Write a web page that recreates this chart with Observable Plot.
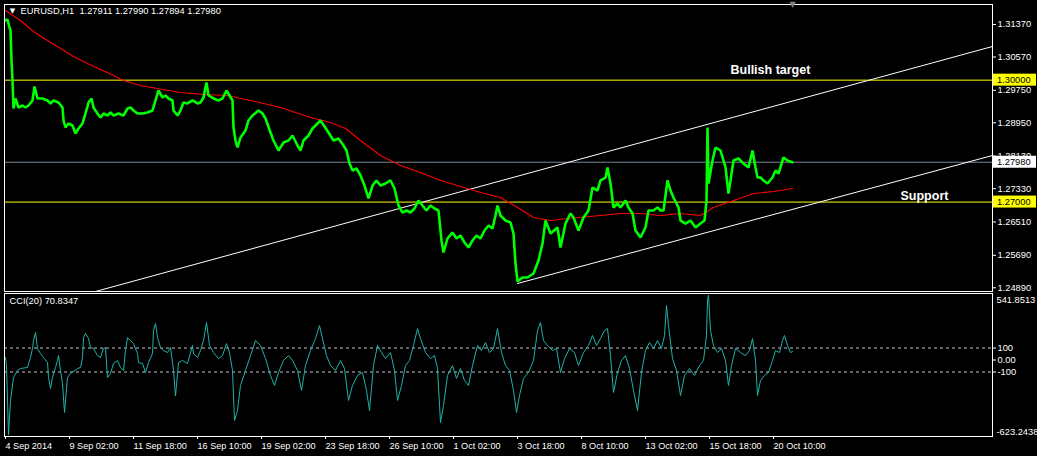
<!DOCTYPE html>
<html><head><meta charset="utf-8">
<script src="https://cdn.jsdelivr.net/npm/d3@7"></script>
<script src="https://cdn.jsdelivr.net/npm/@observablehq/plot@0.6"></script>
<style>
html,body{margin:0;padding:0;background:#000;}
#chart{position:relative;width:1037px;height:456px;background:#000;overflow:hidden;}
#chart svg{position:absolute;left:0;background:transparent;}
</style></head><body><div id="chart"></div>
<script>
// ---------- data ----------
const symbolName = "EURUSD,H1";
const quoteOHLC = ["1.27911", "1.27990", "1.27894", "1.27980"];
const cciTitle = "CCI(20) 70.8347";

// [bar index, price]  (hourly bars, 1 bar per step)
const eurusd = [[0,1.31468],[2,1.31493],[4,1.31296],[5,1.31222],[6,1.30484],[7,1.29992],[8,1.29303],[10,1.29549],[13,1.29327],[17,1.29376],[20,1.29327],[23,1.29376],[27,1.295],[29,1.29844],[32,1.29549],[37,1.29549],[42,1.295],[45,1.29426],[48,1.295],[53,1.2945],[57,1.29327],[58,1.29008],[60,1.28835],[63,1.28934],[67,1.28884],[70,1.28687],[73,1.2881],[77,1.28934],[80,1.2918],[83,1.2945],[86,1.29549],[88,1.29327],[92,1.2918],[95,1.29081],[98,1.2918],[102,1.2913],[105,1.29204],[108,1.2913],[113,1.2918],[118,1.2913],[122,1.29303],[125,1.29327],[128,1.29254],[132,1.2918],[137,1.2918],[142,1.29204],[147,1.29254],[150,1.295],[153,1.29746],[157,1.29573],[160,1.29623],[163,1.29549],[167,1.295],[168,1.29254],[172,1.2913],[175,1.29254],[178,1.2945],[182,1.29426],[187,1.295],[192,1.29426],[195,1.2945],[198,1.29573],[201,1.29943],[203,1.29623],[208,1.29549],[213,1.295],[217,1.29549],[221,1.29746],[224,1.29623],[227,1.295],[228,1.28835],[230,1.28515],[232,1.28343],[235,1.28589],[240,1.28761],[243,1.29008],[247,1.2913],[253,1.29254],[257,1.2918],[260,1.29057],[265,1.28712],[268,1.28515],[273,1.28269],[278,1.28466],[283,1.28515],[287,1.28638],[292,1.28392],[295,1.28269],[298,1.28515],[303,1.28638],[307,1.2881],[311,1.28909],[315,1.29008],[319,1.2886],[323,1.28712],[328,1.28515],[333,1.28564],[338,1.28392],[341,1.28269],[344,1.27949],[347,1.27777],[351,1.27826],[355,1.27654],[359,1.27407],[363,1.27088],[367,1.27407],[371,1.27531],[375,1.27407],[380,1.27457],[385,1.27531],[389,1.27334],[393,1.26915],[397,1.26743],[401,1.26792],[405,1.26743],[409,1.26841],[413,1.27038],[417,1.26915],[421,1.26792],[425,1.26915],[429,1.26841],[433,1.26792],[436,1.26054],[438,1.25759],[442,1.26103],[447,1.26251],[451,1.26103],[455,1.26177],[459,1.26005],[463,1.25882],[467,1.26054],[471,1.26177],[475,1.26103],[479,1.263],[483,1.26423],[487,1.26349],[490,1.26669],[492,1.26915],[495,1.26669],[500,1.26546],[505,1.26497],[508,1.26226],[510,1.25488],[512,1.25045],[517,1.25143],[522,1.25143],[528,1.25242],[533,1.25562],[537,1.2598],[540,1.26546],[545,1.26226],[552,1.26374],[555,1.25882],[560,1.26472],[565,1.26718],[568,1.2662],[573,1.263],[578,1.2662],[583,1.26792],[587,1.27358],[592,1.27284],[595,1.27531],[600,1.27604],[602,1.27851],[605,1.27457],[608,1.26866],[612,1.26965],[615,1.26866],[620,1.27038],[623,1.26866],[627,1.26718],[630,1.263],[635,1.26128],[640,1.26374],[643,1.26792],[648,1.26792],[652,1.26866],[655,1.26792],[658,1.26792],[662,1.27531],[665,1.27284],[668,1.27112],[673,1.26866],[675,1.26546],[680,1.26472],[685,1.26546],[690,1.26374],[695,1.26472],[699,1.26546],[701,1.27038],[702,1.28835],[703,1.27457],[707,1.28023],[710,1.28343],[715,1.28269],[720,1.27851],[723,1.27211],[725,1.27531],[728,1.28023],[733,1.28072],[738,1.27949],[743,1.27851],[747,1.28269],[750,1.27851],[752,1.27604],[755,1.27604],[758,1.27531],[762,1.27457],[767,1.27604],[770,1.27777],[773,1.27703],[778,1.28097],[782,1.28023],[787,1.2798]];

// moving average [bar index, price]
const movingAvg = [[0,1.31715],[15,1.31468],[28,1.31198],[42,1.30976],[55,1.30779],[68,1.30582],[82,1.3041],[95,1.30262],[108,1.30115],[118,1.29992],[135,1.29869],[152,1.29795],[175,1.29696],[198,1.29647],[222,1.29623],[235,1.29549],[245,1.295],[275,1.29327],[305,1.29081],[325,1.28958],[340,1.2881],[355,1.28515],[375,1.28146],[395,1.279],[415,1.27727],[435,1.27531],[455,1.27383],[475,1.27235],[495,1.27112],[512,1.26866],[528,1.2662],[545,1.26546],[562,1.26595],[595,1.26669],[615,1.26718],[635,1.26718],[655,1.26669],[675,1.26718],[695,1.26669],[708,1.26866],[728,1.27038],[748,1.27211],[768,1.2726],[787,1.27334]];

// CCI(20) [bar index, value]
const cci20 = [[0,21],[1,-46],[3,-623.2438],[5,-337],[8,-146],[12,-87],[15,-71],[22,-62],[25,21],[27,96],[28,162],[30,229],[32,96],[35,54],[38,21],[42,-21],[43,-146],[45,-237],[47,-146],[50,-62],[52,-4],[53,37],[55,-87],[57,-196],[59,-437],[62,-146],[65,-112],[72,-71],[75,-62],[77,21],[78,187],[80,221],[83,179],[85,104],[88,96],[92,37],[95,21],[98,96],[100,104],[102,-146],[105,-112],[108,-29],[112,-4],[115,-62],[118,-87],[120,79],[122,187],[125,162],[128,137],[132,54],[133,-21],[137,-29],[140,-104],[143,-21],[147,54],[148,246],[150,304],[152,187],[155,104],[158,79],[162,62],[165,104],[168,-87],[170,-300],[173,-21],[177,-4],[182,-29],[187,121],[188,54],[192,21],[195,79],[198,162],[201,312],[204,121],[208,62],[213,12],[217,37],[221,137],[224,62],[227,-87],[229,-504],[232,-421],[235,-212],[240,-87],[245,37],[250,162],[255,121],[260,12],[265,-129],[269,-212],[273,-104],[278,-4],[283,37],[287,-4],[292,-87],[296,-254],[300,-46],[305,79],[310,179],[314,287],[317,179],[321,37],[325,-46],[330,-87],[335,-4],[339,-71],[343,-337],[347,-212],[352,-129],[357,-104],[361,-254],[364,-421],[368,-46],[372,121],[376,62],[380,12],[385,62],[389,-87],[392,-337],[396,-212],[400,-46],[404,-4],[408,121],[412,262],[415,179],[420,62],[425,12],[429,37],[432,-71],[435,-521],[438,-379],[442,-129],[447,-46],[451,-154],[455,-71],[459,-171],[463,-212],[467,-46],[472,121],[476,79],[480,146],[484,62],[488,96],[492,262],[496,62],[500,-46],[504,-87],[508,-254],[511,-437],[514,-296],[518,-154],[523,-104],[528,-4],[532,246],[535,312],[538,162],[542,121],[547,79],[551,96],[555,-104],[559,12],[564,96],[569,62],[573,-46],[578,62],[583,121],[587,204],[591,121],[595,179],[599,246],[602,262],[605,37],[608,-271],[612,-104],[616,-4],[620,37],[624,-71],[628,-254],[632,-421],[636,-104],[640,79],[644,146],[648,96],[652,162],[656,96],[659,204],[661,454],[663,287],[667,12],[671,-87],[675,-296],[679,-129],[684,-71],[689,-129],[694,-46],[698,-4],[701,204],[702,496],[703,541.8513],[705,246],[708,121],[712,62],[716,96],[720,-4],[723,-212],[726,-46],[730,96],[735,62],[740,37],[744,79],[747,179],[750,-4],[752,-296],[755,-171],[759,-129],[763,-104],[767,-4],[770,79],[774,62],[777,162],[779,204],[782,121],[785,62],[787,70.8347]];

// trend channel rays [bar index, price]
const channelUpper = [[90, 1.24799], [987, 1.30829]];
const channelLower = [[512, 1.24996], [987, 1.28146]];
const levelPrices = [1.30000, 1.27000];
const bidPrice = 1.27980;
const annotationText = ["Bullish target", "Support"];
const annotationIdx = [725, 895];
const annotationPrice = [1.30262, 1.27161];

const priceTicks = [1.31370, 1.30570, 1.29750, 1.28950, 1.28130, 1.27330, 1.26510, 1.25690, 1.24890];
const priceDomain = [1.24799, 1.31862];
const cciMin = -623.2438, cciMax = 541.8513;
const cciLevels = [100, 0, -100];
const cciLevelLabels = ["100", "0.00", "-100"];
const timeTickIdx = [0, 64, 128, 192, 256, 320, 384, 448, 512, 576, 640, 704, 768];
const timeTickLabels = ["4 Sep 2014", "9 Sep 02:00", "11 Sep 18:00", "16 Sep 10:00", "19 Sep 02:00", "23 Sep 18:00", "26 Sep 10:00", "1 Oct 02:00", "3 Oct 18:00", "8 Oct 10:00", "13 Oct 02:00", "15 Oct 18:00", "20 Oct 10:00"];
const barDomain = [-1, 987];

// ---------- drawing ----------
const FONT = "'Liberation Sans', Arial, sans-serif";
const W = 1037;
const annotations = annotationText.map((t, i) => ({t, i: annotationIdx[i], p: annotationPrice[i]}));

const main = Plot.plot({
  width: W, height: 292,
  marginTop: 4, marginBottom: 1, marginLeft: 4, marginRight: 45,
  style: {background: "transparent", color: "#ffffff", fontFamily: FONT, fontSize: "9.3px"},
  x: {domain: barDomain, axis: null, label: null},
  y: {domain: priceDomain, axis: null, label: null},
  marks: [
    Plot.ruleY(levelPrices, {stroke: "#ffff00", strokeWidth: 1}),
    Plot.ruleY([bidPrice], {stroke: "#778899", strokeWidth: 1}),
    Plot.line(channelUpper, {x: d => d[0], y: d => d[1], stroke: "#ffffff", strokeWidth: 1}),
    Plot.line(channelLower, {x: d => d[0], y: d => d[1], stroke: "#ffffff", strokeWidth: 1}),
    Plot.line(movingAvg, {x: d => d[0], y: d => d[1], stroke: "#ff0000", strokeWidth: 1.1}),
    Plot.line(eurusd, {x: d => d[0], y: d => d[1], stroke: "#00ff00", strokeWidth: 2.6, strokeLinejoin: "miter"}),
    Plot.text(annotations, {x: "i", y: "p", text: "t", textAnchor: "start", fill: "#ffffff",
      fontWeight: "bold", fontSize: 12.5, fontFamily: FONT}),
    Plot.axisY({anchor: "right", label: null, ticks: priceTicks, tickFormat: d => d.toFixed(5), tickSize: 3, tickPadding: 2,
      fontSize: 9.3, fill: "#ffffff", stroke: "#ffffff"}),
    Plot.frame({stroke: "#ffffff"}),
    Plot.text(["\u25BC"], {frameAnchor: "top-left", dx: 8, dy: 4, textAnchor: "middle", lineAnchor: "top",
      fill: "#ffffff", fontSize: 7, fontFamily: "DejaVu Sans"}),
    Plot.text([symbolName + "\u00a0\u00a0" + quoteOHLC.join(" ")], {frameAnchor: "top-left", dx: 16, dy: 3,
      textAnchor: "start", lineAnchor: "top", fill: "#ffffff", fontSize: 9.3}),
    Plot.text(["\u25BC"], {x: [787], frameAnchor: "top", dy: -3, textAnchor: "middle", lineAnchor: "top",
      fill: "#808080", fontSize: 8, fontFamily: "DejaVu Sans"})
  ]
});
main.style.top = "0px";

// price-label boxes on the right scale
{
  const ys = main.scale("y");
  const svg = d3.select(main);
  const boxes = levelPrices.map(p => ({p, bg: "#ffff00"})).concat([{p: bidPrice, bg: "#ffffff"}]);
  for (const b of boxes) {
    const y = ys.apply(b.p);
    svg.append("rect").attr("x", 993).attr("y", y - 6).attr("width", 43).attr("height", 12).attr("fill", b.bg);
    svg.append("text").attr("x", 997).attr("y", y).attr("dy", "0.35em").attr("fill", "#000")
      .attr("text-anchor", "start")
      .attr("font-family", FONT).attr("font-size", "9.3px").text(b.p.toFixed(5));
  }
}

const cciPlot = Plot.plot({
  width: W, height: 164,
  marginTop: 1, marginBottom: 20, marginLeft: 4, marginRight: 45,
  style: {background: "transparent", color: "#ffffff", fontFamily: FONT, fontSize: "9.3px"},
  x: {domain: barDomain, axis: null, label: null},
  y: {domain: [cciMin, cciMax], insetTop: 1.5, insetBottom: 1.7, axis: null, label: null},
  marks: [
    Plot.ruleY([cciLevels[0], cciLevels[2]], {stroke: "#c0c0c0", strokeDasharray: "3,3"}),
    Plot.line(cci20, {x: d => d[0], y: d => d[1], stroke: "#20b2aa", strokeWidth: 1}),
    Plot.axisY({anchor: "right", label: null, ticks: cciLevels, tickFormat: d => cciLevelLabels[cciLevels.indexOf(d)],
      tickSize: 3, tickPadding: 2, fill: "#ffffff", stroke: "#ffffff"}),
    Plot.text([cciMax], {y: d => d, text: d => d.toFixed(4), frameAnchor: "right", dx: 4, dy: 1,
      textAnchor: "start", lineAnchor: "top", fill: "#ffffff"}),
    Plot.text([cciMin], {y: d => d, text: d => d.toFixed(4), frameAnchor: "right", dx: 4, dy: 0,
      textAnchor: "start", lineAnchor: "bottom", fill: "#ffffff"}),
    Plot.axisX({anchor: "bottom", label: null, ticks: timeTickIdx, tickFormat: d => timeTickLabels[timeTickIdx.indexOf(d)],
      tickSize: 3, tickPadding: 3, textAnchor: "start", fontSize: 9.1, fill: "#ffffff", stroke: "#ffffff"}),
    Plot.frame({stroke: "#ffffff"}),
    Plot.text([cciTitle], {frameAnchor: "top-left", dx: 5, dy: 4, textAnchor: "start", lineAnchor: "top",
      fill: "#ffffff", fontSize: 9.3})
  ]
});
cciPlot.style.top = "292px";

document.getElementById("chart").append(main, cciPlot);
</script>
</body></html>
